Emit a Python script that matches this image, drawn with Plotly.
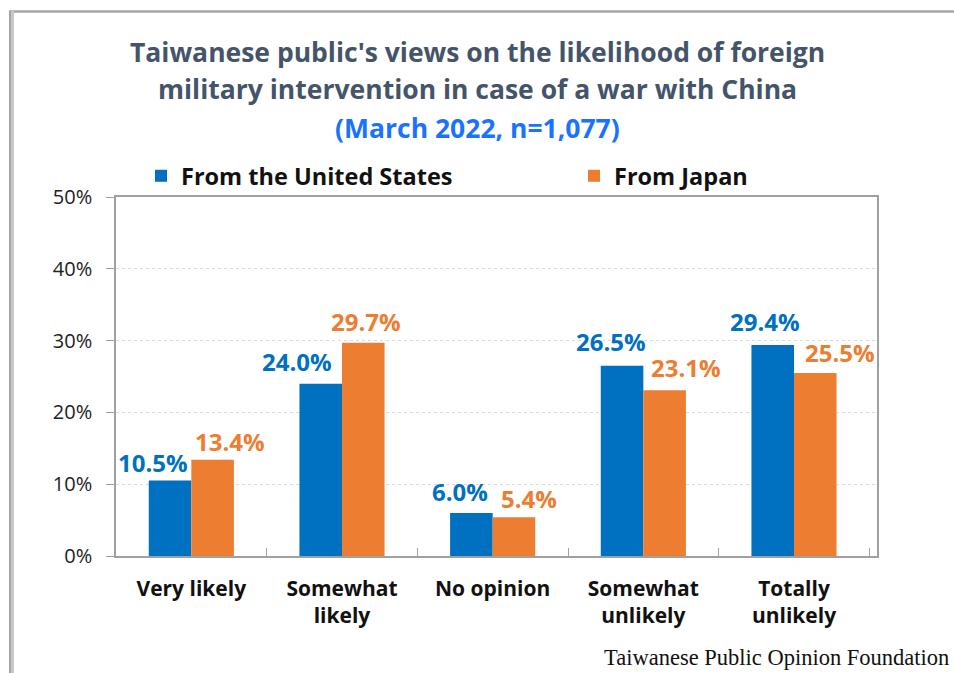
import plotly.graph_objects as go

categories = ["Very likely", "Somewhat<br>likely", "No opinion", "Somewhat<br>unlikely", "Totally<br>unlikely"]
us_values = [10.5, 24.0, 6.0, 26.5, 29.4]
japan_values = [13.4, 29.7, 5.4, 23.1, 25.5]
series_names = ["From the United States", "From Japan"]
y_ticks = [0, 10, 20, 30, 40, 50]
y_tick_labels = ["0%", "10%", "20%", "30%", "40%", "50%"]

title_line1 = "Taiwanese public's views on the likelihood of foreign"
title_line2 = "military intervention in case of a war with China"
title_line3 = "(March 2022, n=1,077)"
footer = "Taiwanese Public Opinion Foundation"

BLUE = "#0070C0"
ORANGE = "#ED7D31"
TITLE_C = "#44546A"
FONT = "Open Sans"

# plot area in pixels
L, R, T, B = 116, 877, 197, 556
W, H = 954, 673
def px(x):
    return (x - L) / (R - L)
def py(y):
    return (B - y) / (B - T)

# manual label offsets (pixels) as in the reference
us_dx = [-38, -45, -33, -32, -29]
us_dy = [18, 22, 21, 24, 23]
jp_dx = [39, 24, 36, 43, 46]
jp_dy = [18, 21, 19, 23, 20]

fig = go.Figure()
fig.add_trace(go.Bar(x=categories, y=us_values, name=series_names[0], legend="legend",
                     marker=dict(color=BLUE, line=dict(width=0))))
fig.add_trace(go.Bar(x=categories, y=japan_values, name=series_names[1], legend="legend2",
                     marker=dict(color=ORANGE, line=dict(width=0))))

annotations = []
for i, c in enumerate(categories):
    annotations.append(dict(x=c, y=us_values[i], xref="x", yref="y",
                            text=f"{us_values[i]:.1f}%", showarrow=False,
                            xshift=us_dx[i], yshift=us_dy[i], yanchor="middle",
                            font=dict(family=FONT, size=24, color=BLUE, weight="bold")))
    annotations.append(dict(x=c, y=japan_values[i], xref="x", yref="y",
                            text=f"{japan_values[i]:.1f}%", showarrow=False,
                            xshift=jp_dx[i], yshift=jp_dy[i], yanchor="middle",
                            font=dict(family=FONT, size=24, color=ORANGE, weight="bold")))

for text, ycen, color in [(title_line1, 52, TITLE_C), (title_line2, 89, TITLE_C), (title_line3, 128, "#1A73FF")]:
    annotations.append(dict(x=px(477), y=py(ycen), xref="paper", yref="paper",
                            text=text, showarrow=False, xanchor="center", yanchor="middle",
                            font=dict(family=FONT, size=26.5, color=color, weight="bold")))

annotations.append(dict(x=px(951), y=py(657), xref="paper", yref="paper", text=footer,
                        showarrow=False, xanchor="right", yanchor="middle",
                        font=dict(family="Liberation Serif", size=22.5, color="#111111")))

shapes = [
    dict(type="line", xref="paper", yref="paper", x0=px(9), x1=px(954), y0=py(11.5), y1=py(11.5),
         line=dict(color="#A6A6A6", width=2.5), layer="above"),
    dict(type="rect", xref="paper", yref="paper", x0=px(9), x1=px(14), y0=py(11), y1=py(673),
         fillcolor="#C8C8C8", line=dict(width=0), layer="above"),
    dict(type="line", xref="paper", yref="paper", x0=px(10), x1=px(10), y0=py(11), y1=py(673),
         line=dict(color="#9A9A9A", width=1.5), layer="above"),
]

legend_font = dict(family=FONT, size=23.5, color="#111111", weight="bold")

fig.update_layout(
    width=W, height=H,
    margin=dict(l=L, r=W - R, t=T, b=H - B, autoexpand=False),
    paper_bgcolor="white", plot_bgcolor="white",
    barmode="group", bargap=0.435, bargroupgap=0,
    showlegend=True,
    legend=dict(orientation="h", x=px(141), y=py(176), xanchor="left", yanchor="middle",
                font=legend_font, bgcolor="rgba(0,0,0,0)"),
    legend2=dict(orientation="h", x=px(574), y=py(176), xanchor="left", yanchor="middle",
                 font=legend_font, bgcolor="rgba(0,0,0,0)"),
    annotations=annotations,
    shapes=shapes,
    xaxis=dict(showline=True, linecolor="#A0A0A0", linewidth=1.5, mirror=True,
               ticks="inside", tickson="boundaries", ticklen=8, tickcolor="#A0A0A0",
               tickfont=dict(family=FONT, size=21, color="#111111", weight="bold"),
               ticklabelstandoff=13, showgrid=False),
    yaxis=dict(range=[0, 50], tickvals=y_ticks, ticktext=y_tick_labels,
               showline=True, linecolor="#A0A0A0", linewidth=1.5, mirror=True,
               ticks="outside", ticklen=8, tickcolor="#A0A0A0",
               tickfont=dict(family=FONT, size=20, color="#222222"),
               ticklabelstandoff=10,
               showgrid=True, gridcolor="#D9D9D9", griddash="dot", gridwidth=1,
               zeroline=False),
)

fig.write_html("out.html", config={"displayModeBar": False},
               post_script="document.body.style.margin='0';document.body.style.overflow='hidden';")
